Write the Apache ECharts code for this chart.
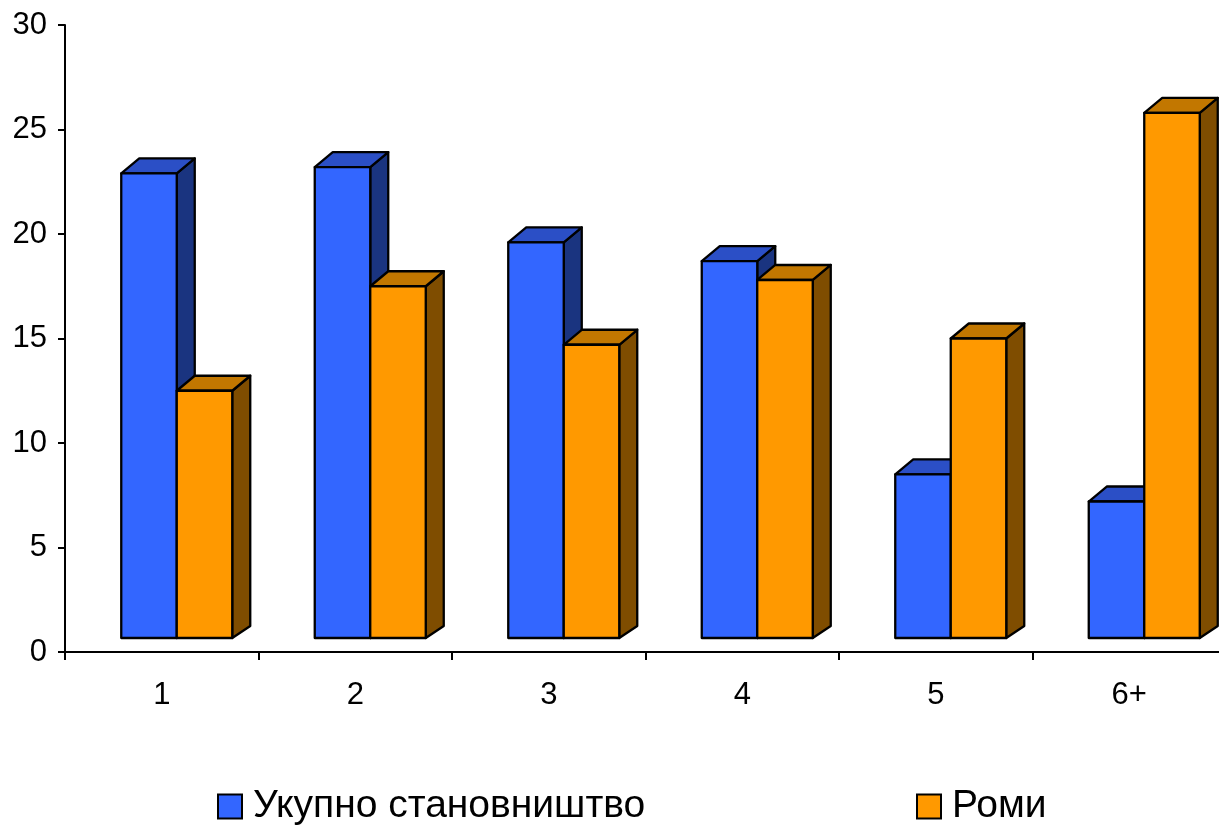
<!DOCTYPE html>
<html>
<head>
<meta charset="utf-8">
<script src="https://cdn.jsdelivr.net/npm/echarts@6/dist/echarts.min.js"></script>
<style>
html,body{margin:0;padding:0;background:#fff;}
#chart{width:1219px;height:826px;}
</style>
</head>
<body>
<div id="chart"></div>
<script>
// ---- data ----
const categories = ['1', '2', '3', '4', '5', '6+'];
const seriesNames = ['Укупно становништво', 'Роми'];
const totalValues = [22.9, 23.2, 19.6, 18.7, 8.5, 7.2];
const romaValues = [12.5, 17.5, 14.7, 17.8, 15.0, 25.8];
const yTicks = { min: 0, max: 30, interval: 5 };

// ---- style ----
const FONT = '"Liberation Sans", Arial, sans-serif';
const palettes = [
  { front: '#3366FF', top: '#2B4FC6', side: '#1A3480' },
  { front: '#FF9900', top: '#C27700', side: '#7F4D00' }
];
const DX = 18, DY_TOP = -15, DY_BOT = -12, FLOOR_LIFT = 14;
const BAR_W = 55.5, CLUSTER_SHIFT = 15;

function makeRender(seriesIndex) {
  const pal = palettes[seriesIndex];
  return function (params, api) {
    const ci = api.value(0);
    const v = api.value(1);
    const top = api.coord([ci, v]);
    const base = api.coord([ci, 0]);
    const cx = top[0] + CLUSTER_SHIFT;
    const x0 = seriesIndex === 0 ? cx - BAR_W : cx;
    const x1 = x0 + BAR_W;
    const yt = top[1];
    const yb = base[1] - FLOOR_LIFT;
    const lineStyle = { stroke: '#000', lineWidth: 2.3, lineJoin: 'round' };
    return {
      type: 'group',
      children: [
        { type: 'polygon', shape: { points: [[x1, yb], [x1 + DX, yb + DY_BOT], [x1 + DX, yt + DY_TOP], [x1, yt]] },
          style: Object.assign({ fill: pal.side }, lineStyle) },
        { type: 'polygon', shape: { points: [[x0, yt], [x0 + DX, yt + DY_TOP], [x1 + DX, yt + DY_TOP], [x1, yt]] },
          style: Object.assign({ fill: pal.top }, lineStyle) },
        { type: 'rect', shape: { x: x0, y: yt, width: BAR_W, height: yb - yt },
          style: Object.assign({ fill: pal.front }, lineStyle) }
      ]
    };
  };
}

const chart = echarts.init(document.getElementById('chart'), null, { renderer: 'canvas' });
const legendCommon = {
  orient: 'horizontal', top: 782, itemWidth: 24, itemHeight: 24, itemGap: 10,
  textStyle: { fontFamily: FONT, fontSize: 39, color: '#000', padding: [0, 0, 0, 6] },
  icon: 'rect'
};
chart.setOption({
  animation: false,
  backgroundColor: '#fff',
  grid: { left: 65, top: 25, width: 1161, height: 627, containLabel: false, outerBoundsMode: 'none' },
  legend: [
    Object.assign({}, legendCommon, { left: 212, data: [{ name: seriesNames[0], itemStyle: { color: palettes[0].front, borderColor: '#000', borderWidth: 2 } }] }),
    Object.assign({}, legendCommon, { left: 911, data: [{ name: seriesNames[1], itemStyle: { color: palettes[1].front, borderColor: '#000', borderWidth: 2 } }] })
  ],
  xAxis: {
    type: 'category', data: categories, boundaryGap: true,
    axisLine: { lineStyle: { color: '#000', width: 2 } },
    axisTick: { show: true, length: 8, lineStyle: { color: '#000', width: 2 }, alignWithLabel: false },
    axisLabel: { fontFamily: FONT, fontSize: 31, color: '#000', margin: 28 },
    splitLine: { show: false }
  },
  yAxis: {
    type: 'value', min: yTicks.min, max: yTicks.max, interval: yTicks.interval,
    axisLine: { show: true, lineStyle: { color: '#000', width: 2 } },
    axisTick: { show: true, length: 7, lineStyle: { color: '#000', width: 2 } },
    axisLabel: { fontFamily: FONT, fontSize: 31, color: '#000', margin: 18 },
    splitLine: { show: false }
  },
  series: [
    { name: seriesNames[0], type: 'custom', renderItem: makeRender(0), itemStyle: { color: palettes[0].front },
      encode: { x: 0, y: 1 }, data: totalValues.map((v, i) => [i, v]) },
    { name: seriesNames[1], type: 'custom', renderItem: makeRender(1), itemStyle: { color: palettes[1].front },
      encode: { x: 0, y: 1 }, data: romaValues.map((v, i) => [i, v]) }
  ]
});
</script>
</body>
</html>
